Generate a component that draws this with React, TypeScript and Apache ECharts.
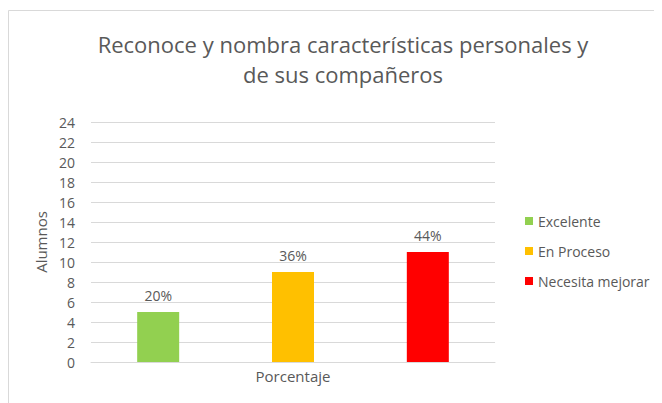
import React, { useEffect, useRef } from "react";
import * as echarts from "echarts";

const titleText = "Reconoce y nombra características personales y\nde sus compañeros";
const seriesNames = ["Excelente", "En Proceso", "Necesita mejorar"];
const seriesValues = [5, 9, 11];
const seriesLabels = ["20%", "36%", "44%"];
const seriesColors = ["#92D050", "#FFC000", "#FF0000"];
const categories = ["Porcentaje"];
const yTicks = { min: 0, max: 24, interval: 2 };

export default function App() {
  const ref = useRef<HTMLDivElement>(null);
  useEffect(() => {
    const chart = echarts.init(ref.current!, null, { renderer: "svg" });
    const font = "Open Sans, Liberation Sans, sans-serif";
    chart.setOption({
      animation: false,
      textStyle: { fontFamily: font },
      title: {
        text: titleText,
        left: 330,
        textAlign: "center",
        top: 16,
        textStyle: { fontSize: 22, fontWeight: "normal", color: "#595959", lineHeight: 30, fontFamily: font },
      },
      graphic: [
        { type: "line", shape: { x1: 0.5, y1: 2.5, x2: 700, y2: 2.5 }, style: { stroke: "#D9D9D9", lineWidth: 1 } },
        { type: "line", shape: { x1: 0.5, y1: 2.5, x2: 0.5, y2: 420 }, style: { stroke: "#D9D9D9", lineWidth: 1 } },
      ],
      legend: {
        orient: "vertical",
        left: 512,
        top: 199,
        itemWidth: 8,
        itemHeight: 8,
        itemGap: 12,
        icon: "rect",
        textStyle: { fontSize: 14, color: "#595959", fontFamily: font, lineHeight: 18 },
        data: seriesNames,
      },
      grid: { left: 83, top: 114, width: 404, height: 240, containLabel: false },
      xAxis: {
        type: "category",
        data: categories,
        name: "",
        axisLine: { lineStyle: { color: "#D9D9D9" } },
        axisTick: { show: false },
        axisLabel: { color: "#595959", fontSize: 15, margin: 6, fontFamily: font },
      },
      yAxis: {
        type: "value",
        min: yTicks.min,
        max: yTicks.max,
        interval: yTicks.interval,
        name: "Alumnos",
        nameLocation: "middle",
        nameGap: 35,
        nameTextStyle: { fontSize: 15, color: "#595959", fontFamily: font },
        axisLine: { show: false },
        axisTick: { show: false },
        axisLabel: { color: "#595959", fontSize: 14, margin: 16, fontFamily: font },
        splitLine: { lineStyle: { color: "#D9D9D9" } },
      },
      series: seriesNames.map((name, i) => ({
        name,
        type: "bar",
        data: [seriesValues[i]],
        barWidth: 42,
        barGap: "221%",
        itemStyle: { color: seriesColors[i] },
        label: {
          show: true,
          position: "top",
          distance: 10,
          formatter: () => seriesLabels[i],
          fontSize: 14,
          color: "#595959",
          fontFamily: font,
        },
      })),
    });
    return () => chart.dispose();
  }, []);
  return <div ref={ref} style={{ width: 654, height: 395, marginTop: 0 }} />;
}
